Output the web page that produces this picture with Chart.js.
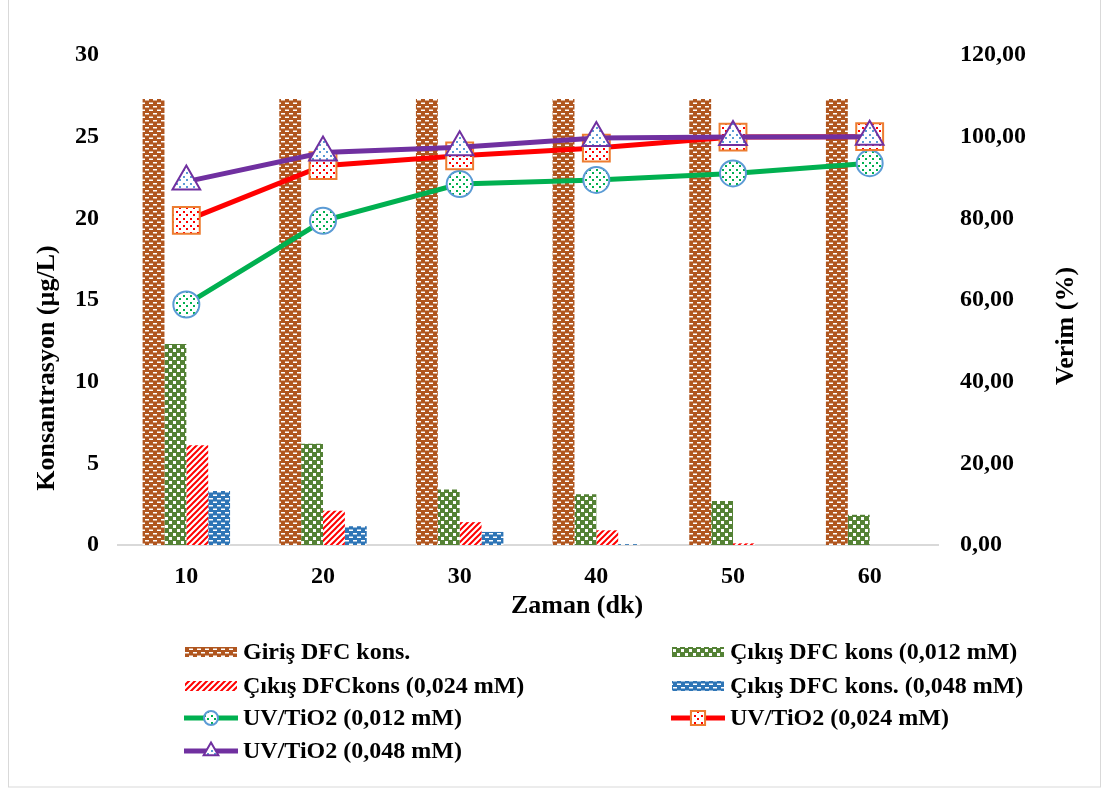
<!DOCTYPE html>
<html>
<head>
<meta charset="utf-8">
<script src="https://cdn.jsdelivr.net/npm/chart.js@4/dist/chart.umd.min.js"></script>
<style>
  body { margin: 0; background: #fff; }
  #wrap { width: 1109px; height: 791px; }
</style>
</head>
<body>
<div id="wrap"><canvas id="chart" width="1109" height="791"></canvas></div>
<script>
const categories = ['10', '20', '30', '40', '50', '60'];
const girisKons = [27.3, 27.3, 27.3, 27.3, 27.3, 27.3];
const cikis012 = [12.3, 6.2, 3.4, 3.1, 2.7, 1.85];
const cikis024 = [6.1, 2.1, 1.4, 0.9, 0.1, 0];
const cikis048 = [3.3, 1.15, 0.8, 0.05, 0, 0];
const verim012 = [58.9, 79.4, 88.4, 89.4, 91.0, 93.5];
const verim024 = [79.5, 92.9, 95.3, 97.2, 99.9, 100];
const verim048 = [89.0, 96.1, 97.4, 99.7, 99.9, 100];
const leftMax = 30, leftStep = 5;
const rightMax = 120, rightStep = 20;

const FONT = '"Liberation Serif", "Times New Roman", serif';

function makePattern(w, h, draw) {
  const c = document.createElement('canvas');
  c.width = w; c.height = h;
  const g = c.getContext('2d');
  draw(g);
  return g.createPattern(c, 'repeat');
}

function brick(color) {
  return makePattern(8, 7, g => {
    g.fillStyle = color; g.fillRect(0, 0, 8, 7);
    g.fillStyle = '#fff';
    g.fillRect(1, 1, 4, 1.5);
    g.fillRect(5, 4.5, 3, 1.5);
    g.fillRect(0, 4.5, 1, 1.5);
  });
}

const brownPat = brick('#b0561f');
const bluePat = brick('#2e75b6');
const greenPat = makePattern(8, 8, g => {
  g.fillStyle = '#548235'; g.fillRect(0, 0, 8, 8);
  g.fillStyle = '#fff';
  g.fillRect(1, 1, 3, 3);
  g.fillRect(5, 5, 3, 3);
});
const redPat = makePattern(6, 6, g => {
  g.fillStyle = '#fff'; g.fillRect(0, 0, 6, 6);
  g.strokeStyle = '#ff0000'; g.lineWidth = 2;
  g.beginPath();
  g.moveTo(-3, 3); g.lineTo(3, -3);
  g.moveTo(0, 6); g.lineTo(6, 0);
  g.moveTo(3, 9); g.lineTo(9, 3);
  g.stroke();
});
function dots(color) {
  return makePattern(7, 7, g => {
    g.fillStyle = '#fff'; g.fillRect(0, 0, 7, 7);
    g.fillStyle = color;
    g.fillRect(1, 1, 2, 2);
    g.fillRect(4, 4, 2, 2);
  });
}

const datasets = [
  { type: 'bar', label: 'Giriş DFC kons.', data: girisKons, backgroundColor: brownPat, yAxisID: 'y', order: 3 },
  { type: 'bar', label: 'Çıkış DFC kons (0,012 mM)', data: cikis012, backgroundColor: greenPat, yAxisID: 'y', order: 3 },
  { type: 'bar', label: 'Çıkış DFCkons (0,024 mM)', data: cikis024, backgroundColor: redPat, yAxisID: 'y', order: 3 },
  { type: 'bar', label: 'Çıkış DFC kons. (0,048 mM)', data: cikis048, backgroundColor: bluePat, yAxisID: 'y', order: 3 },
  { type: 'line', label: 'UV/TiO2 (0,012 mM)', data: verim012, yAxisID: 'y1', order: 2,
    borderColor: '#00b050', borderWidth: 5, pointStyle: 'circle', pointRadius: 13,
    pointBackgroundColor: dots('#00b050'), pointBorderColor: '#5b9bd5', pointBorderWidth: 2 },
  { type: 'line', label: 'UV/TiO2 (0,024 mM)', data: verim024, yAxisID: 'y1', order: 1,
    borderColor: '#ff0000', borderWidth: 5, pointStyle: 'rect', pointRadius: 19,
    pointBackgroundColor: dots('#ff0000'), pointBorderColor: '#ed7d31', pointBorderWidth: 2 },
  { type: 'line', label: 'UV/TiO2 (0,048 mM)', data: verim048, yAxisID: 'y1', order: 0,
    borderColor: '#7030a0', borderWidth: 5, pointStyle: 'triangle', pointRadius: 16,
    pointBackgroundColor: dots('#5b9bd5'), pointBorderColor: '#7030a0', pointBorderWidth: 2 }
];

// legend, axis titles and outer frame drawn by hand
const extras = {
  id: 'extras',
  afterDraw(chart) {
    const ctx = chart.ctx;
    ctx.save();
    ctx.strokeStyle = '#d9d9d9';
    ctx.lineWidth = 1;
    ctx.strokeRect(8.5, -1, 1092, 788);

    ctx.fillStyle = '#000';
    ctx.font = 'bold 26px ' + FONT;
    ctx.textAlign = 'center';
    ctx.textBaseline = 'middle';
    ctx.fillText('Zaman (dk)', 577, 606);

    ctx.save();
    ctx.translate(47, 368);
    ctx.rotate(-Math.PI / 2);
    ctx.fillText('Konsantrasyon (µg/L)', 0, 0);
    ctx.restore();

    ctx.save();
    ctx.translate(1066, 326);
    ctx.rotate(-Math.PI / 2);
    ctx.fillText('Verim (%)', 0, 0);
    ctx.restore();

    // legend in two columns
    const colX = [184, 671];
    const rowY = [652, 686, 718, 751];
    ctx.font = 'bold 24px ' + FONT;
    ctx.textAlign = 'left';
    chart.data.datasets.forEach((ds, i) => {
      const x = colX[i % 2];
      const y = rowY[Math.floor(i / 2)];
      if (ds.type === 'bar') {
        ctx.fillStyle = ds.backgroundColor;
        ctx.fillRect(x + 1, y - 5, 52, 10);
      } else {
        ctx.strokeStyle = ds.borderColor;
        ctx.lineWidth = 5;
        ctx.beginPath();
        ctx.moveTo(x, y); ctx.lineTo(x + 54, y);
        ctx.stroke();
        ctx.fillStyle = ds.pointBackgroundColor;
        ctx.strokeStyle = ds.pointBorderColor;
        ctx.lineWidth = 2;
        Chart.helpers.drawPoint(ctx, {
          pointStyle: ds.pointStyle,
          radius: ds.pointStyle === 'rect' ? 10 : (ds.pointStyle === 'triangle' ? 8.5 : 7),
          borderWidth: 2, rotation: 0
        }, x + 27, y);
      }
      ctx.fillStyle = '#000';
      ctx.fillText(ds.label, x + 59, y + 1);
    });
    ctx.restore();
  }
};

new Chart(document.getElementById('chart'), {
  data: { labels: categories, datasets: datasets },
  options: {
    responsive: false,
    animation: false,
    devicePixelRatio: 1,
    layout: { padding: { top: 55, bottom: 166, left: 0, right: 0 } },
    plugins: { legend: { display: false }, tooltip: { enabled: false } },
    datasets: { bar: { categoryPercentage: 0.64, barPercentage: 1 } },
    elements: { line: { tension: 0 } },
    scales: {
      x: {
        grid: { display: false, drawTicks: false },
        border: { display: true, color: '#d9d9d9', width: 2 },
        ticks: { color: '#000', font: { family: FONT, size: 24, weight: 'bold' }, padding: 17 },
        afterFit: s => { s.height = 80; }
      },
      y: {
        position: 'left', min: 0, max: leftMax,
        grid: { display: false, drawTicks: false },
        border: { display: false },
        ticks: { stepSize: leftStep, color: '#000', font: { family: FONT, size: 24, weight: 'bold' }, padding: 19 },
        afterFit: s => { s.width = 118; }
      },
      y1: {
        position: 'right', min: 0, max: rightMax,
        grid: { display: false, drawTicks: false },
        border: { display: false },
        ticks: {
          stepSize: rightStep, color: '#000', font: { family: FONT, size: 24, weight: 'bold' }, padding: 22,
          callback: v => v.toFixed(2).replace('.', ',')
        },
        afterFit: s => { s.width = 171; }
      }
    }
  },
  plugins: [extras]
});
</script>
</body>
</html>
